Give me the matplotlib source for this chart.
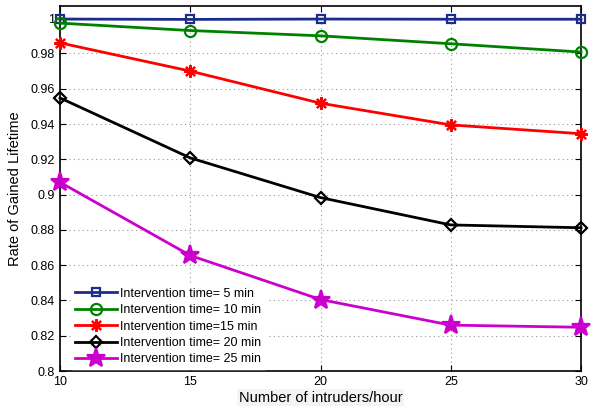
import matplotlib
matplotlib.use('Agg')
import matplotlib.pyplot as plt

plt.rcParams['font.family'] = ['Liberation Sans', 'DejaVu Sans']

intruders = [10, 15, 20, 25, 30]
t5 = [0.9995, 0.9993, 0.9995, 0.9994, 0.9994]
t10 = [0.9972, 0.9930, 0.9900, 0.9855, 0.9808]
t15 = [0.9860, 0.9700, 0.9518, 0.9395, 0.9345]
t20 = [0.9548, 0.9208, 0.8983, 0.8828, 0.8812]
t25 = [0.9070, 0.8655, 0.8405, 0.8260, 0.8248]

series = [
    (t5, 'Intervention time= 5 min', '#1c2c8c', 's', 'none', 6),
    (t10, 'Intervention time= 10 min', '#008000', 'o', 'none', 8),
    (t15, 'Intervention time=15 min', '#ff0000', (8, 2, 0), '#ff0000', 9),
    (t20, 'Intervention time= 20 min', '#000000', 'D', 'none', 6),
    (t25, 'Intervention time= 25 min', '#cc00cc', '*', '#cc00cc', 14),
]

fig = plt.figure(figsize=(6.04, 4.12), dpi=100)
ax = fig.add_axes([0.0993, 0.0995, 0.8627, 0.8855])

for vals, lab, col, mk, fc, ms in series:
    ax.plot(intruders, vals, color=col, linewidth=2, marker=mk, markersize=ms,
            markerfacecolor=fc, markeredgecolor=col, markeredgewidth=1.6,
            label=lab, clip_on=False, zorder=3)

ax.set_xlim(10, 30)
ax.set_ylim(0.8, 1.0068)
ax.set_xticks(intruders)
ax.set_yticks([0.8, 0.82, 0.84, 0.86, 0.88, 0.9, 0.92, 0.94, 0.96, 0.98, 1.0])
ax.set_yticklabels(['0.8', '0.82', '0.84', '0.86', '0.88', '0.9', '0.92', '0.94', '0.96', '0.98', '1'])
ax.tick_params(direction='in', labelsize=9, length=4, top=True, right=True)
ax.grid(True, linestyle=(0, (1, 3)), color='#999999', linewidth=0.8)
for s in ax.spines.values():
    s.set_linewidth(1.2)

ax.set_xlabel('Number of intruders/hour', fontsize=10.5, labelpad=2,
              bbox=dict(facecolor='#f4f4f4', edgecolor='none', pad=1))
ax.set_ylabel('Rate of Gained Lifetime', fontsize=10.5, labelpad=6)

leg = ax.legend(loc='lower left', bbox_to_anchor=(0.015, -0.005), fontsize=9,
                frameon=True, fancybox=False, edgecolor='white', framealpha=1,
                handlelength=3.3, borderaxespad=0.3, labelspacing=0.35,
                handletextpad=0.3, borderpad=0.3)

fig.savefig('out.png', dpi=100)
